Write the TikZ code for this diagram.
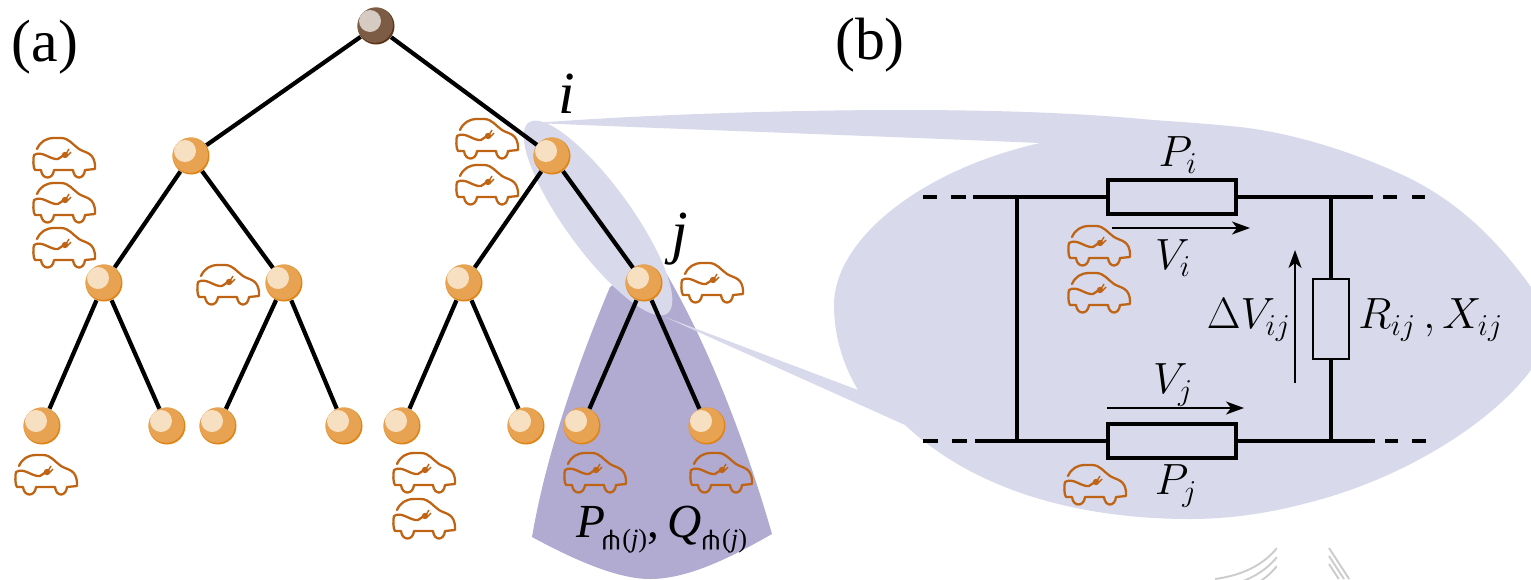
\documentclass[tikz,border=0pt]{standalone}
\usepackage{amsmath,amssymb}
\usepackage{fontspec}
\usepackage{tikz}
\usetikzlibrary{arrows.meta,positioning,calc}
\newfontfamily\timesfont{Liberation Serif}
\definecolor{calloutfill}{HTML}{D8D9EB}
\definecolor{fanfill}{HTML}{B1ABD2}
\definecolor{cardraw}{HTML}{BF6415}
\definecolor{busdark}{HTML}{DF8416}
\definecolor{busmid}{HTML}{E8A352}
\definecolor{buslight}{HTML}{F7DFC2}
\definecolor{rootdark}{HTML}{5A3316}
\definecolor{rootmid}{HTML}{7D5C45}
\definecolor{rootlight}{HTML}{D5CBC3}
\newcommand{\heavyfork}{\rlap{$\pitchfork$}\kern0.35pt\rlap{$\pitchfork$}\kern0.35pt$\pitchfork$}
\newcommand{\childset}{\fontsize{15}{15}\selectfont\raisebox{-1pt}{\heavyfork}\kern1pt(\textit{j})}
\tikzset{
  bus/.style={circle,inner sep=0pt,minimum size=0.74cm,fill=busdark,path picture={
    \fill[busmid] ($(path picture bounding box.center)+(-0.8,-1)$) circle (17.8);
    \fill[buslight] ($(path picture bounding box.center)+(-6,-5)$) circle (11);}},
  rootbus/.style={circle,inner sep=0pt,minimum size=0.74cm,fill=rootdark,path picture={
    \fill[rootmid] ($(path picture bounding box.center)+(-0.8,-1)$) circle (17.8);
    \fill[rootlight] ($(path picture bounding box.center)+(-6,-5)$) circle (11);}},
  branch/.style={line width=2.4pt,black},
  wire/.style={line width=1.9pt,black},
  element/.style={draw,line width=2pt,fill=calloutfill,inner sep=0pt},
  measure/.style={-{Stealth[length=3.6mm,width=2.6mm,inset=1mm]},line width=0.85pt},
  bigtext/.style={font=\fontsize{27}{30}\selectfont,inner sep=0pt},
  paneltext/.style={font=\timesfont\fontsize{34}{40}\selectfont,inner sep=0pt},
  childtext/.style={font=\timesfont\fontsize{27}{30}\selectfont,inner sep=0pt,anchor=base west},
  faint/.style={black!20,line width=1.1pt},
  car/.pic={
    \draw[cardraw,line width=1.3pt,line cap=round,line join=round]
      (-27,-9) .. controls (-24,-16) and (-18,-20) .. (-10,-20) -- (-3,-20)
      .. controls (5,-20) and (9,-13) .. (15,-9)
      .. controls (21,-5) and (31,-6) .. (31,9) -- (31,11) -- (21,12)
      .. controls (20,22) and (10,22) .. (9,12) -- (-10,12)
      .. controls (-11,22) and (-22,22) .. (-23,12) -- (-29,12)
      .. controls (-31,10) and (-31,0) .. (-30,-3)
      .. controls (-22,-8) and (-14,2) .. (-6,1)
      .. controls (-3,0) and (-3,-2) .. (0,-3);
    \fill[cardraw] (1,-3) circle (3.2);
    \draw[cardraw,line width=0.8pt] (2,-4) -- (5,-9) (3,-2) -- (7,-6);
  }
}
\begin{document}
\begin{tikzpicture}[x=0.02cm,y=-0.02cm]
\useasboundingbox (0,0) rectangle (1531,579);
% shaded subtree below j
\fill[fanfill] (610,287) .. controls (575,370) and (545,460) .. (532,537)
  .. controls (580,563) and (620,579) .. (650,579)
  .. controls (690,579) and (735,555) .. (772,534)
  .. controls (745,440) and (705,335) .. (657,258) -- cycle;
% faint marks, lower right
\begin{scope}
\clip (1180,540) rectangle (1277,579);
\foreach \r in {0,9,18}
  \draw[faint] (1277,{548+\r}) .. controls (1265,{563+\r}) and (1245,{575+\r}) .. (1215,{579+\r});
\end{scope}
\foreach \r in {0,8,16}
  \draw[faint] (1329,{548+\r}) -- ({1329+(31-\r)*0.65},579);
% zoom region
\fill[calloutfill,rotate around={-54:(598,218)}] (598,218) ellipse (118 and 33);
\fill[calloutfill] (535,123) .. controls (650,114) and (800,110) .. (900,110)
  .. controls (1000,110) and (1080,113) .. (1153,120)
  .. controls (1182,122) and (1211,124) .. (1240,127)
  .. controls (1300,134) and (1360,155) .. (1407,177)
  .. controls (1450,198) and (1490,230) .. (1531,287) -- (1531,370)
  .. controls (1490,425) and (1400,480) .. (1307,503)
  .. controls (1270,513) and (1230,519) .. (1190,519)
  .. controls (1100,519) and (985,500) .. (905,425)
  -- (665,317) -- (858,390)
  .. controls (840,360) and (834,330) .. (834,305)
  .. controls (834,240) and (920,170) .. (1040,143)
  .. controls (850,135) and (700,130) .. cycle;
% tree
\node[rootbus] (root) at (376,26) {};
\node[bus] (n1) at (191,156) {};
\node[bus] (ni) at (552,156) {};
\node[bus] (n3) at (104,283) {};
\node[bus] (n4) at (284,283) {};
\node[bus] (n5) at (464,283) {};
\node[bus] (nj) at (644,283) {};
\node[bus] (n7) at (42,426) {};
\node[bus] (n8) at (167,426) {};
\node[bus] (n9) at (218,426) {};
\node[bus] (n10) at (344,426) {};
\node[bus] (n11) at (402,426) {};
\node[bus] (n12) at (526,426) {};
\node[bus] (n13) at (582,426) {};
\node[bus] (n14) at (707,426) {};
\foreach \a/\b in {root/n1,root/ni,n1/n3,n1/n4,ni/n5,ni/nj,n3/n7,n3/n8,n4/n9,n4/n10,n5/n11,n5/n12,nj/n13,nj/n14}
  \draw[branch] (\a) -- (\b);
% cars
\foreach \cx/\cy in {64/158,64/203,64/248,228/285,487/139,487/185,712/283,46/475,424/473,424/519,595/473,721/473,1099/246,1099/293,1095/485}
  \pic at (\cx,\cy) {car};
% circuit
\coordinate (topleft) at (973,197);
\coordinate (topright) at (1373,197);
\coordinate (botleft) at (975,441);
\coordinate (botright) at (1375,441);
\coordinate (shuntl) at (1017,197);
\coordinate (shuntlb) at (1017,441);
\coordinate (shuntr) at (1331,197);
\coordinate (shuntrb) at (1331,441);
\node[element,minimum width=2.56cm,minimum height=0.68cm] (zi) at (1172,197) {};
\node[element,minimum width=2.56cm,minimum height=0.68cm] (zj) at (1172,441) {};
\node[element,line width=1.6pt,minimum width=0.72cm,minimum height=1.6cm] (rx) at (1331,319) {};
\draw[wire] (topleft) -- (zi) (zi) -- (topright);
\draw[wire] (botleft) -- (zj) (zj) -- (botright);
\draw[wire] (shuntl) -- (shuntlb);
\draw[wire] (shuntr) -- (rx) (rx) -- (shuntrb);
\draw[wire] (923,197) -- (937,197) (951,197) -- (966,197);
\draw[wire] (923,441) -- (938,441) (952,441) -- (967,441);
\draw[wire] (1383,197) -- (1397,197) (1412,197) -- (1425,197);
\draw[wire] (1385,441) -- (1398,441) (1412,441) -- (1426,441);
\coordinate (vis) at (1112,228);
\coordinate (vie) at (1250,228);
\coordinate (vjs) at (1107,408);
\coordinate (vje) at (1244,408);
\coordinate (dvs) at (1295,383);
\coordinate (dve) at (1295,250);
\draw[measure] (vis) -- (vie);
\draw[measure] (vjs) -- (vje);
\draw[measure] (dvs) -- (dve);
% labels
\node[paneltext] (la) at (45,47) {(a)};
\node[paneltext] (lb) at (870,45) {(b)};
\node[paneltext] (li) at (567,94) {\itshape i};
\node[paneltext] (lj) at (680,239) {\itshape j};
\node[bigtext] (pi) at (1178,155) {$P_i$};
\node[bigtext] (vi) at (1173,258) {$V_i$};
\node[bigtext] (vj) at (1173,385) {$V_j$};
\node[bigtext] (pj) at (1176,486) {$P_j$};
\node[bigtext,anchor=east] (dv) at (1291,320) {$\Delta V_{ij}$};
\node[bigtext,anchor=west] (rij) at (1358,320) {$R_{ij}\,,X_{ij}$};
\node[childtext] (pchild) at (576,537) {\textit{P}\kern-2pt\raisebox{-6pt}{\childset},};
\node[childtext] (qchild) at (667,537) {\textit{Q}\raisebox{-6pt}{\childset}};
\end{tikzpicture}
\end{document}
